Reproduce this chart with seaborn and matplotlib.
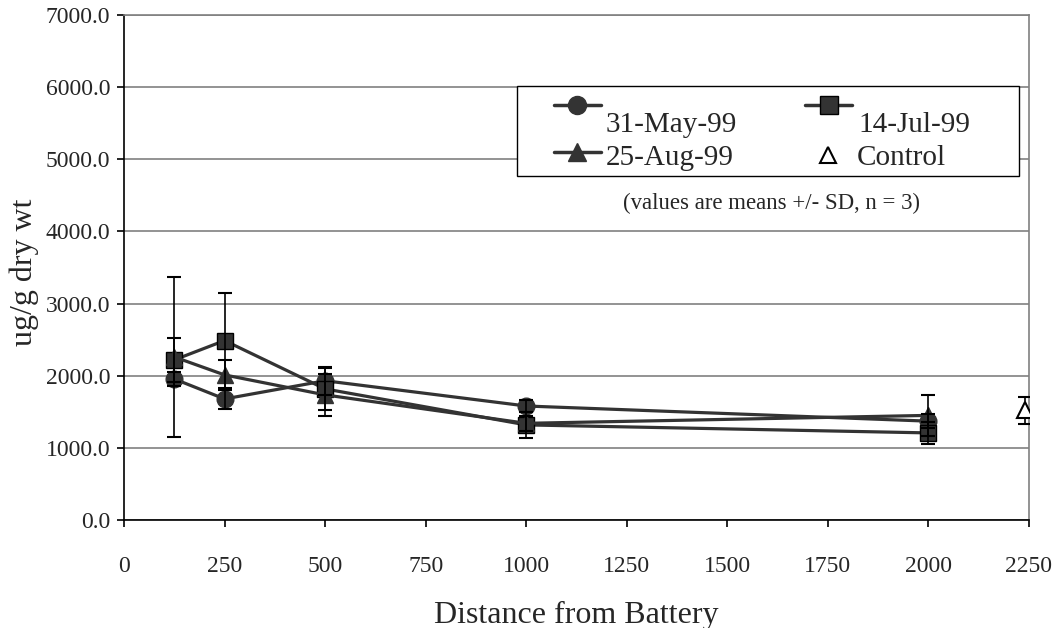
"""Concentration vs distance from battery, three sampling dates plus control."""

import matplotlib.pyplot as plt
from matplotlib.lines import Line2D
from matplotlib.patches import Rectangle
import pandas as pd
import seaborn as sns

distance = [125, 250, 500, 1000, 2000]

may_mean = [1955, 1678, 1930, 1580, 1370]
may_sd = [100, 138, 197, 80, 100]

jul_mean = [2219, 2487, 1817, 1318, 1207]
jul_sd = [310, 660, 290, 180, 153]

aug_mean = [2260, 2011, 1734, 1340, 1450]
aug_sd = [1110, 208, 292, 100, 288]

control_x = [2240]
control_mean = [1520]
control_sd = [190]

series = [
    ("31-May-99", may_mean, may_sd, "o", "#333333"),
    ("14-Jul-99", jul_mean, jul_sd, "s", "black"),
    ("25-Aug-99", aug_mean, aug_sd, "^", "#333333"),
]

LINE = "#333333"
GRID = "#808080"

sns.set_theme(style="white")
plt.rcParams["font.family"] = ["Liberation Serif", "DejaVu Serif"]

fig, ax = plt.subplots(figsize=(10.57, 6.28), dpi=100)
fig.subplots_adjust(left=0.1173, right=0.9735, top=0.9761, bottom=0.172)

for label, mean, sd, marker, edge in series:
    df = pd.DataFrame({"distance": distance, "value": mean})
    sns.lineplot(
        data=df, x="distance", y="value", ax=ax,
        color=LINE, lw=2.3, marker=marker, markersize=12,
        markeredgecolor=edge, markeredgewidth=1.0,
        legend=False, zorder=3,
    )
    ax.errorbar(distance, mean, yerr=sd, fmt="none", ecolor="black",
                elinewidth=1.2, capsize=5, capthick=1.5, zorder=4)

ax.errorbar(control_x, control_mean, yerr=control_sd, fmt="^", ms=11,
            mfc="white", mec="black", mew=1.5, ecolor="black",
            elinewidth=1.2, capsize=5, capthick=1.5, zorder=4)

ax.set_xlim(0, 2250)
ax.set_ylim(0, 7000)
ax.set_xticks(range(0, 2251, 250))
ax.set_yticks(range(0, 7001, 1000))
ax.set_yticklabels([f"{v:.1f}" for v in range(0, 7001, 1000)])

ax.yaxis.grid(True, color=GRID, lw=1.2)
ax.xaxis.grid(False)
ax.set_axisbelow(True)

for side in ("left", "bottom"):
    ax.spines[side].set_color("black")
    ax.spines[side].set_linewidth(1.2)
for side in ("top", "right"):
    ax.spines[side].set_color(GRID)
    ax.spines[side].set_linewidth(1.2)

ax.tick_params(axis="both", direction="out", length=5, width=1.2,
               color="black", labelsize=17, bottom=True, left=True)
ax.tick_params(axis="y", pad=5)
ax.tick_params(axis="x", pad=21)

ax.set_xlabel("Distance from Battery", fontsize=23, labelpad=17)
ax.set_ylabel("ug/g dry wt", fontsize=23)
ax.yaxis.set_label_coords(-0.094, 0.49)

# Légende dessinée à la main (texte décalé sous le symbole, façon Excel)
ax.add_patch(Rectangle((0.4339, 0.6812), 0.555, 0.179, transform=ax.transAxes,
                       facecolor="white", edgecolor="black", lw=1.0, zorder=5))
entries = [
    ("31-May-99", "o", LINE, (0.4751, 0.8218), (0.5326, 0.7683)),
    ("14-Jul-99", "s", "black", (0.7525, 0.8218), (0.811, 0.7683)),
    ("25-Aug-99", "^", LINE, (0.4751, 0.7293), (0.5326, 0.703)),
]
for label, marker, edge, (hx, hy), (tx, ty) in entries:
    ax.add_line(Line2D([hx, hx + 0.052], [hy, hy], transform=ax.transAxes,
                       color=LINE, lw=2.5, zorder=6))
    ax.add_line(Line2D([hx + 0.026], [hy], transform=ax.transAxes,
                       marker=marker, ms=13, color=LINE, mec=edge, mew=1.0,
                       zorder=7))
    ax.text(tx, ty, label, transform=ax.transAxes, fontsize=21,
            va="baseline", ha="left", zorder=7)

ax.add_line(Line2D([0.7779], [0.7228], transform=ax.transAxes, marker="^",
                   ms=11, mfc="white", mec="black", mew=1.5, zorder=7))
ax.text(0.81, 0.703, "Control", transform=ax.transAxes, fontsize=21,
        va="baseline", ha="left", zorder=7)

ax.text(0.715, 0.6158, "(values are means +/- SD, n = 3)", transform=ax.transAxes,
        fontsize=16.4, va="baseline", ha="center")

fig.savefig("out.png", dpi=100)
plt.close(fig)
